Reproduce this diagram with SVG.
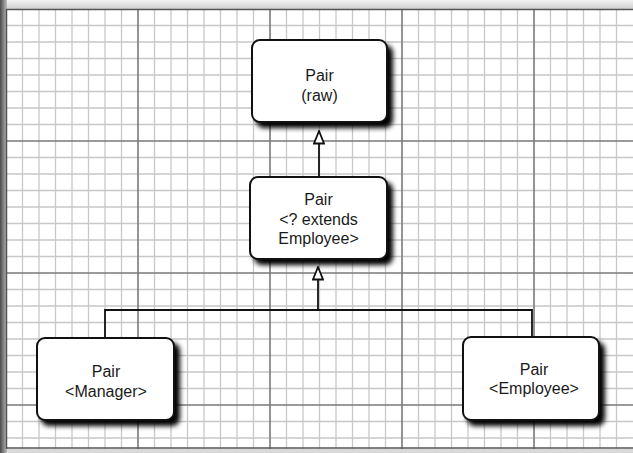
<svg xmlns="http://www.w3.org/2000/svg" width="633" height="453" viewBox="0 0 633 453">
  <style>
    .minor { stroke: #c8c8c8; stroke-width: 1.3; fill: none; }
    .major { stroke: #7a7a7a; stroke-width: 1.6; fill: none; }
    .box { fill: #ffffff; stroke: #111111; stroke-width: 2; }
    .shadow { fill: #000000; }
    .label { font-family: "Liberation Sans", Arial, sans-serif; font-size: 16px; fill: #1a1a1a; text-anchor: middle; }
    .conn { stroke: #111111; stroke-width: 1.8; fill: none; }
  </style>
  <defs>
    <filter id="blur" x="-20%" y="-20%" width="140%" height="140%">
      <feGaussianBlur stdDeviation="2.8"/>
    </filter>
    <marker id="hollow" viewBox="0 0 15 12" refX="14" refY="6" markerWidth="15" markerHeight="12" markerUnits="userSpaceOnUse" orient="auto">
      <path d="M14,6 L1.5,1 L1.5,11 Z" fill="#ffffff" stroke="#111111" stroke-width="1.8" stroke-linejoin="miter"/>
    </marker>
    <linearGradient id="leftEdge" x1="0" y1="0" x2="1" y2="0">
      <stop offset="0" stop-color="#4a4a4a"/>
      <stop offset="1" stop-color="#bdbdbd"/>
    </linearGradient>
    <linearGradient id="topEdge" x1="0" y1="0" x2="0" y2="1">
      <stop offset="0" stop-color="#f2f2f2"/>
      <stop offset="1" stop-color="#cfcfcf"/>
    </linearGradient>
  </defs>

  <!-- paper -->
  <rect x="0" y="0" width="633" height="453" fill="#d9d9d9"/>
  <rect x="0" y="0" width="633" height="9" fill="url(#topEdge)"/>
  <rect x="6" y="9" width="627" height="440" fill="#ffffff"/>
  <rect x="0" y="0" width="7" height="453" fill="url(#leftEdge)"/>

  <!-- grid -->
  <g id="grid">
    <path class="minor" d="M22.5,9V449 M39,9V449 M55.5,9V449 M72,9V449 M88.5,9V449 M105,9V449 M121.5,9V449 M154.5,9V449 M171,9V449 M187.5,9V449 M204,9V449 M220.5,9V449 M237,9V449 M253.5,9V449 M286.5,9V449 M303,9V449 M319.5,9V449 M336,9V449 M352.5,9V449 M369,9V449 M385.5,9V449 M418.5,9V449 M435,9V449 M451.5,9V449 M468,9V449 M484.5,9V449 M501,9V449 M517.5,9V449 M550.5,9V449 M567,9V449 M583.5,9V449 M600,9V449 M616.5,9V449
      M6,25.5H633 M6,42H633 M6,58.5H633 M6,75H633 M6,91.5H633 M6,108H633 M6,124.5H633 M6,157.5H633 M6,174H633 M6,190.5H633 M6,207H633 M6,223.5H633 M6,240H633 M6,256.5H633 M6,289.5H633 M6,306H633 M6,322.5H633 M6,339H633 M6,355.5H633 M6,372H633 M6,388.5H633 M6,421.5H633 M6,438H633"/>
    <path class="major" d="M138,9V449 M270,9V449 M402,9V449 M534,9V449 M6,141H633 M6,273H633 M6,405H633"/>
    <path d="M6.5,9V449 M6,9.5H633 M6,448H633" stroke="#555555" stroke-width="1.5" fill="none"/>
  </g>

  <!-- connectors -->
  <g id="connectors">
    <line class="conn" x1="319" y1="177" x2="319" y2="131" marker-end="url(#hollow)"/>
    <line class="conn" x1="318" y1="310" x2="318" y2="267" marker-end="url(#hollow)"/>
    <polyline class="conn" points="105,338 105,310 532,310 532,337"/>
  </g>

  <!-- nodes -->
  <g id="node-raw">
    <rect class="shadow" x="256" y="45" width="137" height="83" rx="8" filter="url(#blur)"/>
    <rect class="box" x="252" y="40" width="135" height="82" rx="8"/>
    <text class="label" x="319.5" y="81">Pair</text>
    <text class="label" x="319.5" y="101">(raw)</text>
  </g>

  <g id="node-extends">
    <rect class="shadow" x="254" y="182" width="139" height="83" rx="8" filter="url(#blur)"/>
    <rect class="box" x="250" y="177" width="137" height="82" rx="8"/>
    <text class="label" x="318.5" y="205">Pair</text>
    <text class="label" x="318.5" y="224.5">&lt;? extends</text>
    <text class="label" x="318.5" y="244">Employee&gt;</text>
  </g>

  <g id="node-manager">
    <rect class="shadow" x="41" y="343" width="139" height="83" rx="8" filter="url(#blur)"/>
    <rect class="box" x="37" y="338" width="137" height="82" rx="8"/>
    <text class="label" x="106" y="377">Pair</text>
    <text class="label" x="106" y="397">&lt;Manager&gt;</text>
  </g>

  <g id="node-employee">
    <rect class="shadow" x="467" y="342" width="138" height="84" rx="8" filter="url(#blur)"/>
    <rect class="box" x="463" y="337" width="136" height="83" rx="8"/>
    <text class="label" x="534" y="375">Pair</text>
    <text class="label" x="534" y="394">&lt;Employee&gt;</text>
  </g>
</svg>
